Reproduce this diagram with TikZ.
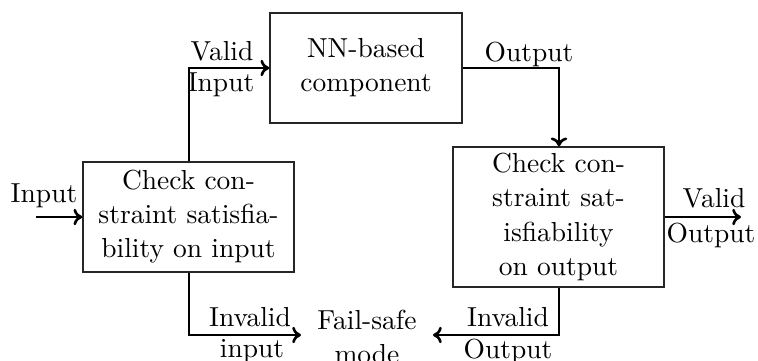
\documentclass[tikz,border=0pt]{standalone}
\usetikzlibrary{arrows.meta}
\begin{document}
\begin{tikzpicture}[x=0.3636pt,y=-0.3636pt,
  txt/.style={font=\fontsize{10pt}{12.4pt}\selectfont, align=center, inner sep=0pt},
  blk/.style={txt, draw=black!85, line width=0.55pt, inner sep=0pt},
  conn/.style={line width=0.95pt, -{To[length=3.2pt,width=6pt]}}
]
\useasboundingbox (0,0) rectangle (758,360);
\node[blk, minimum width=69.8pt, minimum height=40pt] (nn) at (366,68) {NN-based\\component};
\node[blk, minimum width=76.7pt, minimum height=40pt] (cin) at (188.5,217) {Check con-\\straint satisfia-\\bility on input};
\node[blk, minimum width=76.7pt, minimum height=50.9pt] (cout) at (558.5,217) {Check con-\\straint sat-\\isfiability\\on output};
\node[txt] (fs) at (367,337) {Fail-safe\\mode};

\coordinate (inS) at (36,217);
\coordinate (voE) at (741,217);
\coordinate (iiC) at (189,335);
\coordinate (iiE) at (301,335);
\coordinate (ioC) at (559,335);
\coordinate (ioE) at (433,335);
\coordinate (viC) at (189,68);
\coordinate (oC) at (559,68);

\draw[conn] (inS) -- (cin.west);
\draw[conn] (cin.north -| viC) -- (viC) -- (nn.west);
\draw[conn] (nn.east) -- (oC) -- (cout.north -| oC);
\draw[conn] (cout.east) -- (voE);
\draw[conn] (cin.south -| iiC) -- (iiC) -- (iiE);
\draw[conn] (cout.south -| ioC) -- (ioC) -- (ioE);

\node[txt] (lin) at (44,196) {Input};
\node[txt] (lvi1) at (222,51) {Valid};
\node[txt] (lvi2) at (221,85) {Input};
\node[txt] (lout) at (529,54) {Output};
\node[txt] (lvo1) at (714,198) {Valid};
\node[txt] (lvo2) at (711,235) {Output};
\node[txt] (lii1) at (250,317) {Invalid};
\node[txt] (lii2) at (252,351) {input};
\node[txt] (lio1) at (508,317) {Invalid};
\node[txt] (lio2) at (508,351) {Output};
\end{tikzpicture}
\end{document}
